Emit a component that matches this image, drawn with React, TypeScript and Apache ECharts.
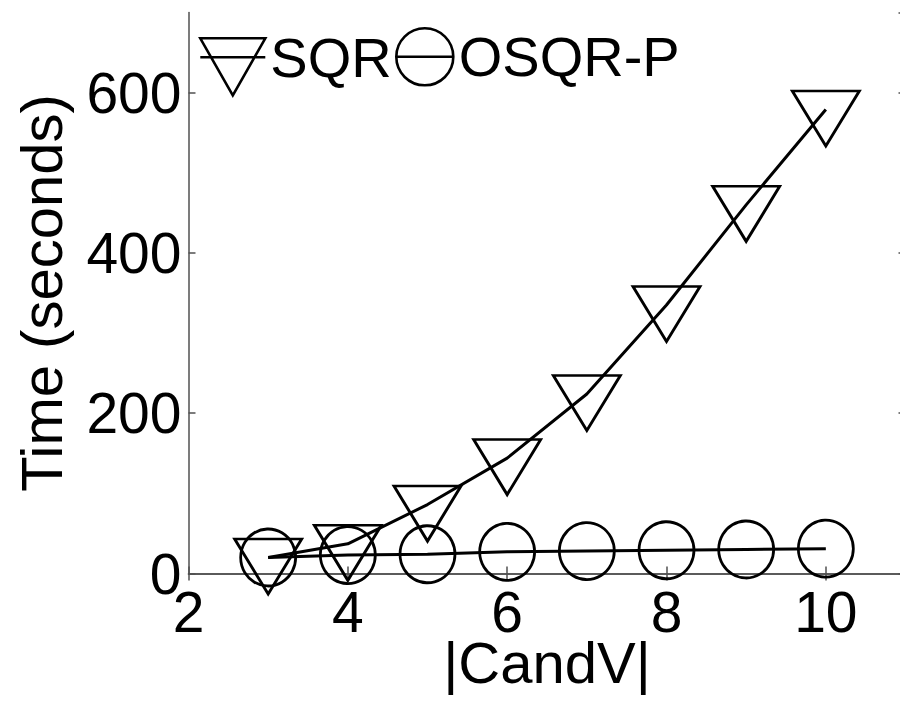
import React, { useEffect, useRef } from "react";
import * as echarts from "echarts";

const candV = [3, 4, 5, 6, 7, 8, 9, 10];
const sqrTimes = [20, 37, 86, 144, 224, 335, 460, 579];
const osqrpTimes = [20, 23, 24, 27, 28, 29, 30, 31];
const seriesNames = ["SQR", "OSQR-P"];
const xAxisName = "|CandV|";
const yAxisName = "Time (seconds)";

const FONT = "Liberation Sans, Arial, Helvetica, sans-serif";
const AXIS_COLOR = "#505050";

export default function App() {
  const ref = useRef<HTMLDivElement>(null);

  useEffect(() => {
    if (!ref.current) return;
    const chart = echarts.init(ref.current, undefined, { renderer: "svg" });

    const sqrData = candV.map((x, i) => [x, sqrTimes[i]]);
    const osqrData = candV.map((x, i) => [x, osqrpTimes[i]]);

    const axisLine = { show: true, lineStyle: { color: AXIS_COLOR, width: 1.5 } };
    const axisTick = { show: true, inside: true, length: 7, lineStyle: { color: AXIS_COLOR, width: 1.5 } };

    const legendCommon = {
      orient: "horizontal" as const,
      padding: 0,
      selectedMode: false,
      textStyle: { fontFamily: FONT, fontSize: 56, color: "#000" },
      itemStyle: { color: "transparent", borderColor: "#000", borderWidth: 2.6 },
    };

    chart.setOption({
      animation: false,
      backgroundColor: "#fff",
      textStyle: { fontFamily: FONT },
      grid: {
        left: 188.5,
        right: 0.5,
        top: 12.5,
        bottom: 127.5,
        containLabel: false,
        outerBoundsMode: "none",
      },
      legend: [
        {
          ...legendCommon,
          left: 199,
          top: 18,
          itemWidth: 65,
          itemHeight: 76,
          data: [{ name: seriesNames[0], icon: "path://M0,-19 M0,0 L65,0 L32.5,57 Z M0,19 L65,19" }],
        },
        {
          ...legendCommon,
          left: 395,
          top: 27,
          itemWidth: 58,
          itemHeight: 57,
          data: [
            {
              name: seriesNames[1],
              icon: "path://M0,28.5 A28.5,28.5 0 1,1 57,28.5 A28.5,28.5 0 1,1 0,28.5 Z M0,28.5 L57,28.5",
            },
          ],
        },
      ],
      xAxis: [
        {
          type: "value",
          position: "bottom",
          min: 2,
          max: 11,
          interval: 2,
          axisLine,
          axisTick,
          splitLine: { show: false },
          axisLabel: {
            fontFamily: FONT,
            fontSize: 57,
            lineHeight: 50,
            color: "#000",
            margin: 13.5,
            showMaxLabel: false,
          },
          name: xAxisName,
          nameLocation: "middle",
          nameGap: 64,
          nameMoveOverlap: false,
          nameTextStyle: { fontFamily: FONT, fontSize: 58, lineHeight: 50, color: "#000" },
        },
        {
          type: "value",
          position: "top",
          min: 2,
          max: 11,
          interval: 2,
          axisLine,
          axisTick,
          splitLine: { show: false },
          axisLabel: { show: false },
        },
      ],
      yAxis: [
        {
          type: "value",
          position: "left",
          min: 0,
          max: 700,
          interval: 200,
          axisLine,
          axisTick,
          splitLine: { show: false },
          axisLabel: {
            fontFamily: FONT,
            fontSize: 57,
            lineHeight: 46,
            color: "#000",
            margin: 7,
            showMaxLabel: false,
          },
          name: yAxisName,
          nameLocation: "middle",
          nameGap: 118,
          nameMoveOverlap: false,
          nameTextStyle: { fontFamily: FONT, fontSize: 58, color: "#000" },
        },
        {
          type: "value",
          position: "right",
          min: 0,
          max: 700,
          interval: 200,
          axisLine,
          axisTick,
          splitLine: { show: false },
          axisLabel: { show: false },
        },
      ],
      series: [
        {
          name: seriesNames[0],
          type: "line",
          xAxisIndex: 0,
          yAxisIndex: 0,
          data: sqrData,
          clip: false,
          symbol: "triangle",
          symbolRotate: 180,
          symbolSize: [67, 55],
          symbolOffset: [0, 9],
          lineStyle: { color: "#000", width: 3 },
          itemStyle: { color: "transparent", borderColor: "#000", borderWidth: 2.8 },
        },
        {
          name: seriesNames[1],
          type: "line",
          xAxisIndex: 0,
          yAxisIndex: 0,
          data: osqrData,
          clip: false,
          symbol: "circle",
          symbolSize: [55, 57],
          lineStyle: { color: "#000", width: 3 },
          itemStyle: { color: "transparent", borderColor: "#000", borderWidth: 2.8 },
        },
      ],
    });

    return () => {
      chart.dispose();
    };
  }, []);

  return (
    <div
      style={{
        position: "fixed",
        left: 0,
        top: 0,
        width: 900,
        height: 701,
        overflow: "hidden",
        background: "#fff",
      }}
    >
      <div ref={ref} style={{ width: 906, height: 701 }} />
    </div>
  );
}
